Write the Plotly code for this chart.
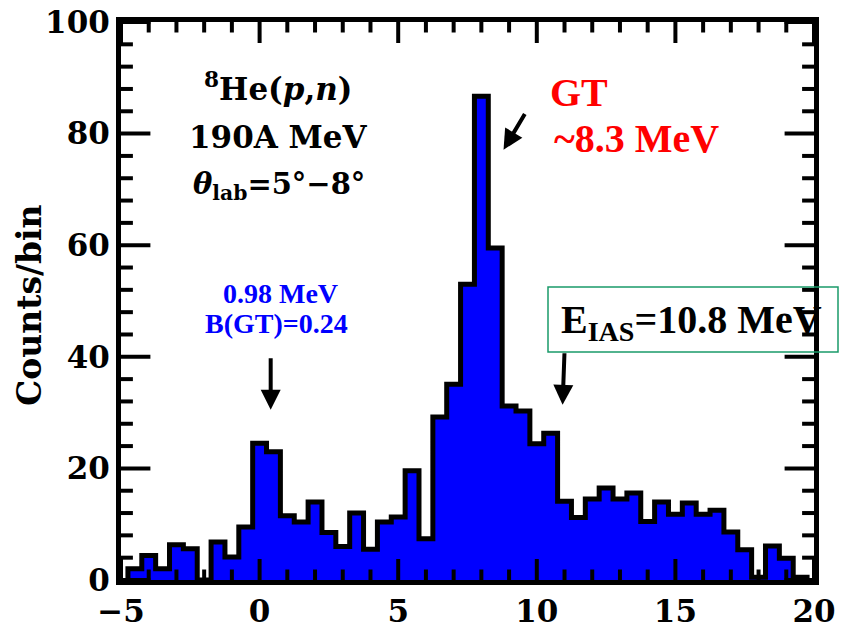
import numpy as np
import plotly.graph_objects as go

# Excitation energy bin centres (MeV) and counts per bin (0.5 MeV bins)
bin_centers = [-4.5, -4.0, -3.5, -3.0, -2.5, -2.0, -1.5, -1.0, -0.5, 0.0,
               0.5, 1.0, 1.5, 2.0, 2.5, 3.0, 3.5, 4.0, 4.5, 5.0,
               5.5, 6.0, 6.5, 7.0, 7.5, 8.0, 8.5, 9.0, 9.5, 10.0,
               10.5, 11.0, 11.5, 12.0, 12.5, 13.0, 13.5, 14.0, 14.5, 15.0,
               15.5, 16.0, 16.5, 17.0, 17.5, 18.0, 18.5, 19.0, 19.5]
counts = [2, 4.4, 2, 6.3, 5.6, 0, 6.8, 4.1, 9.5, 24.5,
          23, 11.5, 10.4, 14, 8.5, 6, 12, 5.5, 10.4, 11.3,
          19.6, 7.4, 29.2, 35.1, 53, 86.7, 59.5, 31.2, 30.3, 24.4,
          26.3, 14.1, 11.2, 14.5, 16.5, 14.5, 15.6, 10.5, 14, 11.8,
          13.8, 11.8, 12.5, 8.6, 5.4, 0.5, 6.1, 3.9, 0.5]
bin_width = 0.5

x_ticks = [-5, 0, 5, 10, 15, 20]
y_ticks = [0, 20, 40, 60, 80, 100]
x_minor_step = 1
y_minor_step = 4

# step outline built from the bins
half = bin_width / 2
xs = [bin_centers[0] - half] + [c - half for c in bin_centers] + [bin_centers[-1] + half, bin_centers[-1] + half]
ys = [0] + counts + [counts[-1], 0]

fig = go.Figure()
fig.add_trace(go.Scatter(
    x=xs, y=ys, mode="lines",
    line=dict(shape="hv", color="black", width=5),
    fill="tozeroy", fillcolor="#0000ff",
    hoverinfo="skip", showlegend=False,
))

# inward tick marks on all four sides (clipped to the plotting area)
x0, x1 = x_ticks[0], x_ticks[-1]
y0, y1 = y_ticks[0], y_ticks[-1]
x_minor = [v for v in np.arange(x0, x1 + 1e-9, x_minor_step) if v not in x_ticks]
y_minor = [v for v in np.arange(y0, y1 + 1e-9, y_minor_step) if v not in y_ticks]


def tick_trace(x, y, symbol, size):
    return go.Scatter(
        x=x, y=y, mode="markers", cliponaxis=True,
        marker=dict(symbol=symbol, size=size, color="black", line=dict(color="black", width=4)),
        hoverinfo="skip", showlegend=False,
    )


fig.add_trace(tick_trace(list(x_ticks) * 2, [y0] * len(x_ticks) + [y1] * len(x_ticks), "line-ns", 30))
fig.add_trace(tick_trace(list(x_minor) * 2, [y0] * len(x_minor) + [y1] * len(x_minor), "line-ns", 15))
fig.add_trace(tick_trace([x0] * len(y_ticks) + [x1] * len(y_ticks), list(y_ticks) * 2, "line-ew", 42))
fig.add_trace(tick_trace([x0] * len(y_minor) + [x1] * len(y_minor), list(y_minor) * 2, "line-ew", 17))

axis_font = dict(family="DejaVu Serif", size=31, color="black", weight="bold")

fig.update_xaxes(
    range=[x0, x1], tickmode="array", tickvals=x_ticks,
    showgrid=False, zeroline=False, showline=True, linewidth=5, linecolor="black",
    mirror=True, ticks="", tickfont=axis_font,
)
fig.update_yaxes(
    range=[y0, y1], tickmode="array", tickvals=y_ticks,
    showgrid=False, zeroline=False, showline=True, linewidth=5, linecolor="black",
    mirror=True, ticks="", tickfont=axis_font,
)

serif_bold = dict(family="DejaVu Serif", size=31, color="black", weight="bold")
times_red = dict(family="Liberation Serif", size=40, color="#ff0000", weight="bold")
times_blue = dict(family="Liberation Serif", size=28, color="#0000ff", weight="bold")
times_black = dict(family="Liberation Serif", size=40, color="black", weight="bold")

annotations = [
    dict(x=-0.131, y=0.493, xref="paper", yref="paper", xanchor="center", yanchor="middle",
         text="Counts/bin", textangle=-90, showarrow=False,
         font=dict(family="DejaVu Serif", size=33, color="black", weight="bold")),
    dict(x=0.65, y=88.4, text="<sup>8</sup>He(<i>p</i>,<i>n</i>)", showarrow=False,
         xanchor="center", font=serif_bold),
    dict(x=0.69, y=79.4, text="190A MeV", showarrow=False, xanchor="center", font=serif_bold),
    dict(x=0.69, y=70.6, text="<i>θ</i><sub>lab</sub>=5°\u22128°", showarrow=False,
         xanchor="center", font=dict(family="DejaVu Serif", size=29, color="black", weight="bold")),
    dict(x=10.42, y=87.3, text="GT", xanchor="left", showarrow=False, font=times_red),
    dict(x=10.55, y=79.2, text="~8.3 MeV", xanchor="left", showarrow=False, font=times_red),
    dict(x=0.76, y=51.4, text="0.98 MeV", xanchor="center", showarrow=False, font=times_blue),
    dict(x=0.61, y=46.0, text="B(GT)=0.24", xanchor="center", showarrow=False, font=times_blue),
    dict(x=(691 - 121) / 693, y=(580 - 322) / 558, xref="paper", yref="paper",
         xanchor="center", yanchor="middle",
         text="E<sub>IAS</sub>=10.8 MeV", showarrow=False, font=times_black),
    # arrows
    dict(x=8.8, y=77.1, ax=9.6, ay=83.8, axref="x", ayref="y", text="", showarrow=True,
         arrowhead=2, arrowsize=1, arrowwidth=4, arrowcolor="black"),
    dict(x=0.4, y=30.5, ax=0.4, ay=40.0, axref="x", ayref="y", text="", showarrow=True,
         arrowhead=2, arrowsize=1, arrowwidth=4, arrowcolor="black"),
    dict(x=10.93, y=31.4, ax=11.0, ay=40.9, axref="x", ayref="y", text="", showarrow=True,
         arrowhead=2, arrowsize=1, arrowwidth=4, arrowcolor="black"),
]

shapes = [
    dict(type="rect", xref="paper", yref="paper",
         x0=(548 - 121) / 693, x1=(838 - 121) / 693,
         y0=(580 - 352) / 558, y1=(580 - 287) / 558,
         line=dict(color="#1a9a6a", width=1.5), fillcolor="rgba(0,0,0,0)"),
]

fig.update_layout(
    width=846, height=634,
    margin=dict(l=121, r=32, t=22, b=54, autoexpand=False),
    plot_bgcolor="white", paper_bgcolor="white",
    annotations=annotations, shapes=shapes,
    showlegend=False,
)

fig.write_html("out.html")
